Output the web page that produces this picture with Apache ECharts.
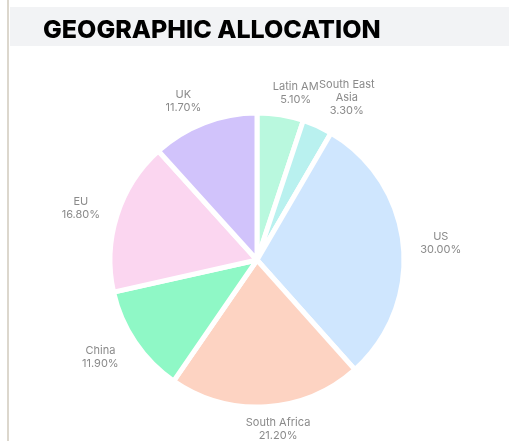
<!DOCTYPE html>
<html>
<head>
    <meta charset="utf-8">
    <title>Geographic allocation</title>
    <script src="https://cdn.jsdelivr.net/npm/echarts@6/dist/echarts.min.js"></script>
    <style>
        html, body { margin: 0; padding: 0; background: #fff; }
        #main { width: 509px; height: 441px; }
    </style>
</head>
<body>
<div id="main"></div>
<script type="text/javascript">
    // regions, clockwise from 12 o'clock
    var regions = ['Latin AM', 'South East\nAsia', 'US', 'South Africa', 'China', 'EU', 'UK'];
    var shares = [5.1, 3.3, 30.0, 21.2, 11.9, 16.8, 11.7];
    var colors = ['#b9f8de', '#b9f1ef', '#cfe6fe', '#fdd3c2', '#8ff8c6', '#fbd6f0', '#d1c3fb'];

    var pieData = [];
    for (var i = 0; i < regions.length; i++) {
        pieData.push({ name: regions[i], value: shares[i], itemStyle: { color: colors[i] } });
    }

    var CX = 257, CY = 260, R = 147;
    var PAD_X = 14, PAD_Y = 6;

    var myChart = echarts.init(document.getElementById('main'));
    var option = {
        animation: false,
        graphic: [
            // left rule
            { type: 'rect', shape: { x: 7, y: 0, width: 2, height: 441 }, style: { fill: '#dcd7cd' }, silent: true },
            // title band
            { type: 'rect', shape: { x: 10, y: 7, width: 499, height: 39 }, style: { fill: '#f2f3f5' }, silent: true, z: -1 }
        ],
        title: {
            text: 'GEOGRAPHIC ALLOCATION',
            left: 38,
            top: 13,
            textStyle: {
                fontFamily: 'Inter',
                fontWeight: 800,
                fontSize: 25,
                color: '#000'
            }
        },
        series: [
            {
                type: 'pie',
                center: [CX, CY],
                radius: R,
                startAngle: 90,
                clockwise: true,
                avoidLabelOverlap: false,
                itemStyle: { borderColor: '#fff', borderWidth: 5 },
                label: {
                    show: true,
                    position: 'outside',
                    distanceToLabelLine: 0,
                    fontFamily: 'Inter',
                    fontSize: 11,
                    lineHeight: 13,
                    color: '#8a8a8a',
                    formatter: function (p) {
                        return p.name + '\n' + p.value.toFixed(2) + '%';
                    }
                },
                labelLine: { show: false, length: 3, length2: 0 },
                // push each label box out from its anchor point on the rim
                labelLayout: function (params) {
                    var r = params.labelRect;
                    var ax = params.align === 'right' ? r.x + r.width : r.x;
                    var ay = r.y + r.height / 2;
                    var vx = ax - CX, vy = ay - CY;
                    var len = Math.sqrt(vx * vx + vy * vy);
                    vx /= len; vy /= len;
                    var m = Math.max(Math.abs(vx), Math.abs(vy));
                    var gx = Math.sqrt(Math.abs(vx) / m) * (vx < 0 ? -1 : 1);
                    return {
                        x: ax + (r.width / 2 + PAD_X) * gx,
                        y: ay + (r.height / 2 + PAD_Y) * vy / m,
                        align: 'center',
                        verticalAlign: 'middle'
                    };
                },
                emphasis: { disabled: true },
                data: pieData
            }
        ]
    };
    myChart.setOption(option);
</script>
</body>
</html>
